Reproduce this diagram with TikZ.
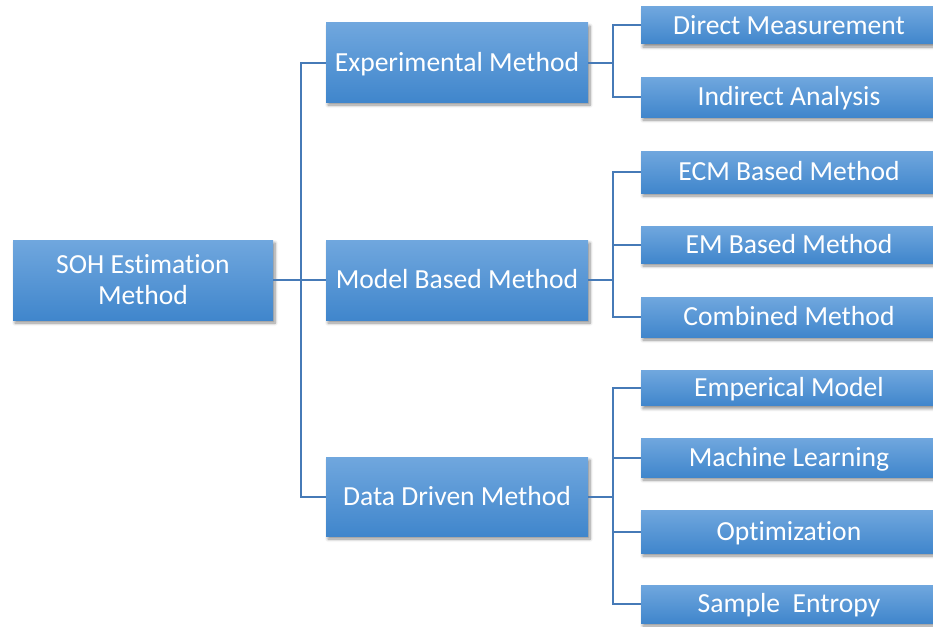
\documentclass[tikz,border=0pt]{standalone}
\usepackage{fontspec}
\setmainfont{Carlito}[Ligatures=NoCommon]
\usetikzlibrary{shadows.blur}
\definecolor{boxtop}{RGB}{112,167,222}
\definecolor{boxbot}{RGB}{64,134,204}
\definecolor{linkblue}{RGB}{70,122,183}
\tikzset{
  box/.style={rectangle, inner sep=0pt, top color=boxtop, bottom color=boxbot,
    text=white, font=\fontsize{27.6}{31}\selectfont, align=center,
    blur shadow={shadow xshift=2pt, shadow yshift=-3pt, shadow blur steps=6, shadow opacity=45, shadow blur radius=3pt}},
  oneline/.style={box, text height=17.8pt, text depth=0pt},
  midbox/.style={oneline, minimum width=262pt, minimum height=80pt},
  leafbox/.style={oneline, minimum width=296pt},
  link/.style={draw=linkblue, line width=2pt}
}
\begin{document}
\begin{tikzpicture}[x=1pt, y=-1pt]
\useasboundingbox (0,0) rectangle (933,626);
\clip (0,0) rectangle (933,626);
% junction points of the tree
\coordinate (j0) at (301,280);
\coordinate (j1) at (613,62.5);
\coordinate (j2) at (613,280);
\coordinate (j3) at (613,496.5);
% root and first level
\node[box, minimum width=260pt, minimum height=80pt] (soh) at (143,280) {SOH Estimation\\Method};
\node[midbox, minimum height=79pt] (exp) at (457,62.5) {Experimental Method};
\node[midbox] (mod) at (457,280) {Model Based Method};
\node[midbox, minimum height=79pt] (dat) at (457,496.5) {Data Driven Method};
% leaves
\node[leafbox, minimum height=37pt] (dm) at (789,25.5) {Direct Measurement};
\node[leafbox, minimum height=40pt] (ia) at (789,97) {Indirect Analysis};
\node[leafbox, minimum height=42pt] (ecm) at (789,172) {ECM Based Method};
\node[leafbox, minimum height=37pt] (em) at (789,244.5) {EM Based Method};
\node[leafbox, minimum height=40pt] (cm) at (789,317) {Combined Method};
\node[leafbox, minimum height=35pt] (emp) at (789,388) {Emperical Model};
\node[leafbox, minimum height=39pt] (ml) at (789,457.5) {Machine Learning};
\node[leafbox, minimum height=43pt] (opt) at (789,531.5) {Optimization};
\node[leafbox, minimum height=38pt] (se) at (789,604) {Sample\ \ Entropy};
% links
\draw[link] (soh.east) -- (j0);
\draw[link] (j0) |- (exp.west);
\draw[link] (j0) -- (mod.west);
\draw[link] (j0) |- (dat.west);
\draw[link] (exp.east) -- (j1);
\draw[link] (j1) |- (dm.west);
\draw[link] (j1) |- (ia.west);
\draw[link] (mod.east) -- (j2);
\draw[link] (j2) |- (ecm.west);
\draw[link] (j2) |- (em.west);
\draw[link] (j2) |- (cm.west);
\draw[link] (dat.east) -- (j3);
\draw[link] (j3) |- (emp.west);
\draw[link] (j3) |- (ml.west);
\draw[link] (j3) |- (opt.west);
\draw[link] (j3) |- (se.west);
\end{tikzpicture}
\end{document}
